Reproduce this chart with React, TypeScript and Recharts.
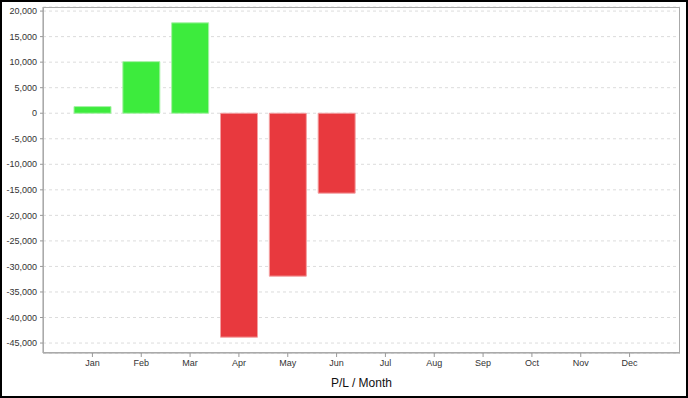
import * as React from "react";
import { BarChart, Bar, Cell, XAxis, YAxis, CartesianGrid } from "recharts";

const MONTHS = ["Jan", "Feb", "Mar", "Apr", "May", "Jun", "Jul", "Aug", "Sep", "Oct", "Nov", "Dec"];
const PL_VALUES: (number | null)[] = [1300, 10100, 17700, -43850, -31900, -15650, null, null, null, null, null, null];
const Y_TICKS = [20000, 15000, 10000, 5000, 0, -5000, -10000, -15000, -20000, -25000, -30000, -35000, -40000, -45000];

const GAIN = "#3deb3d";
const GAIN_EDGE = "#a6f2a6";
const LOSS = "#e8393e";
const LOSS_EDGE = "#f3a0a2";

const data = MONTHS.map((month, i) => ({ month, pl: PL_VALUES[i] }));

const fmt = (v: number) => v.toLocaleString("en-US");

export default function App() {
  const font = "'Liberation Sans', Arial, sans-serif";
  return (
    <div
      style={{
        position: "absolute",
        left: 0,
        top: 0,
        width: 688,
        height: 398,
        background: "#fff",
        fontFamily: font,
      }}
    >
      <BarChart
        width={688}
        height={398}
        data={data}
        margin={{ top: 7, right: 8, bottom: 0, left: 0 }}
      >
        <CartesianGrid vertical={false} stroke="#dcdcdc" strokeDasharray="3 3" />
        <XAxis
          dataKey="month"
          height={45}
          padding={{ left: 25, right: 26 }}
          stroke="#999"
          tickSize={4}
          tickMargin={3}
          tick={{ fontSize: 9, fill: "#333", fontFamily: font }}
          interval={0}
          label={{
            value: "P/L / Month",
            position: "insideBottom",
            offset: 11,
            style: { fontSize: 12, fill: "#111", fontFamily: font },
          }}
        />
        <YAxis
          width={43}
          domain={[-46950, 20800]}
          ticks={Y_TICKS}
          interval={0}
          stroke="#999"
          tickSize={3}
          tickMargin={3}
          tickFormatter={fmt}
          tick={{ fontSize: 9, fill: "#333", fontFamily: font }}
        />
        <Bar dataKey="pl" barSize={37} isAnimationActive={false}>
          {data.map((d, i) => (
            <Cell
              key={`cell-${i}`}
              fill={(d.pl ?? 0) >= 0 ? GAIN : LOSS}
              stroke={(d.pl ?? 0) >= 0 ? GAIN_EDGE : LOSS_EDGE}
              strokeWidth={1}
            />
          ))}
        </Bar>
      </BarChart>
      <div
        style={{
          position: "absolute",
          left: 43,
          top: 7,
          width: 637,
          height: 346,
          boxSizing: "border-box",
          border: "1px solid #aaa",
          pointerEvents: "none",
        }}
      />
      <div
        style={{
          position: "absolute",
          left: 0,
          top: 0,
          width: 688,
          height: 398,
          boxSizing: "border-box",
          border: "2px solid #000",
          pointerEvents: "none",
        }}
      />
    </div>
  );
}
